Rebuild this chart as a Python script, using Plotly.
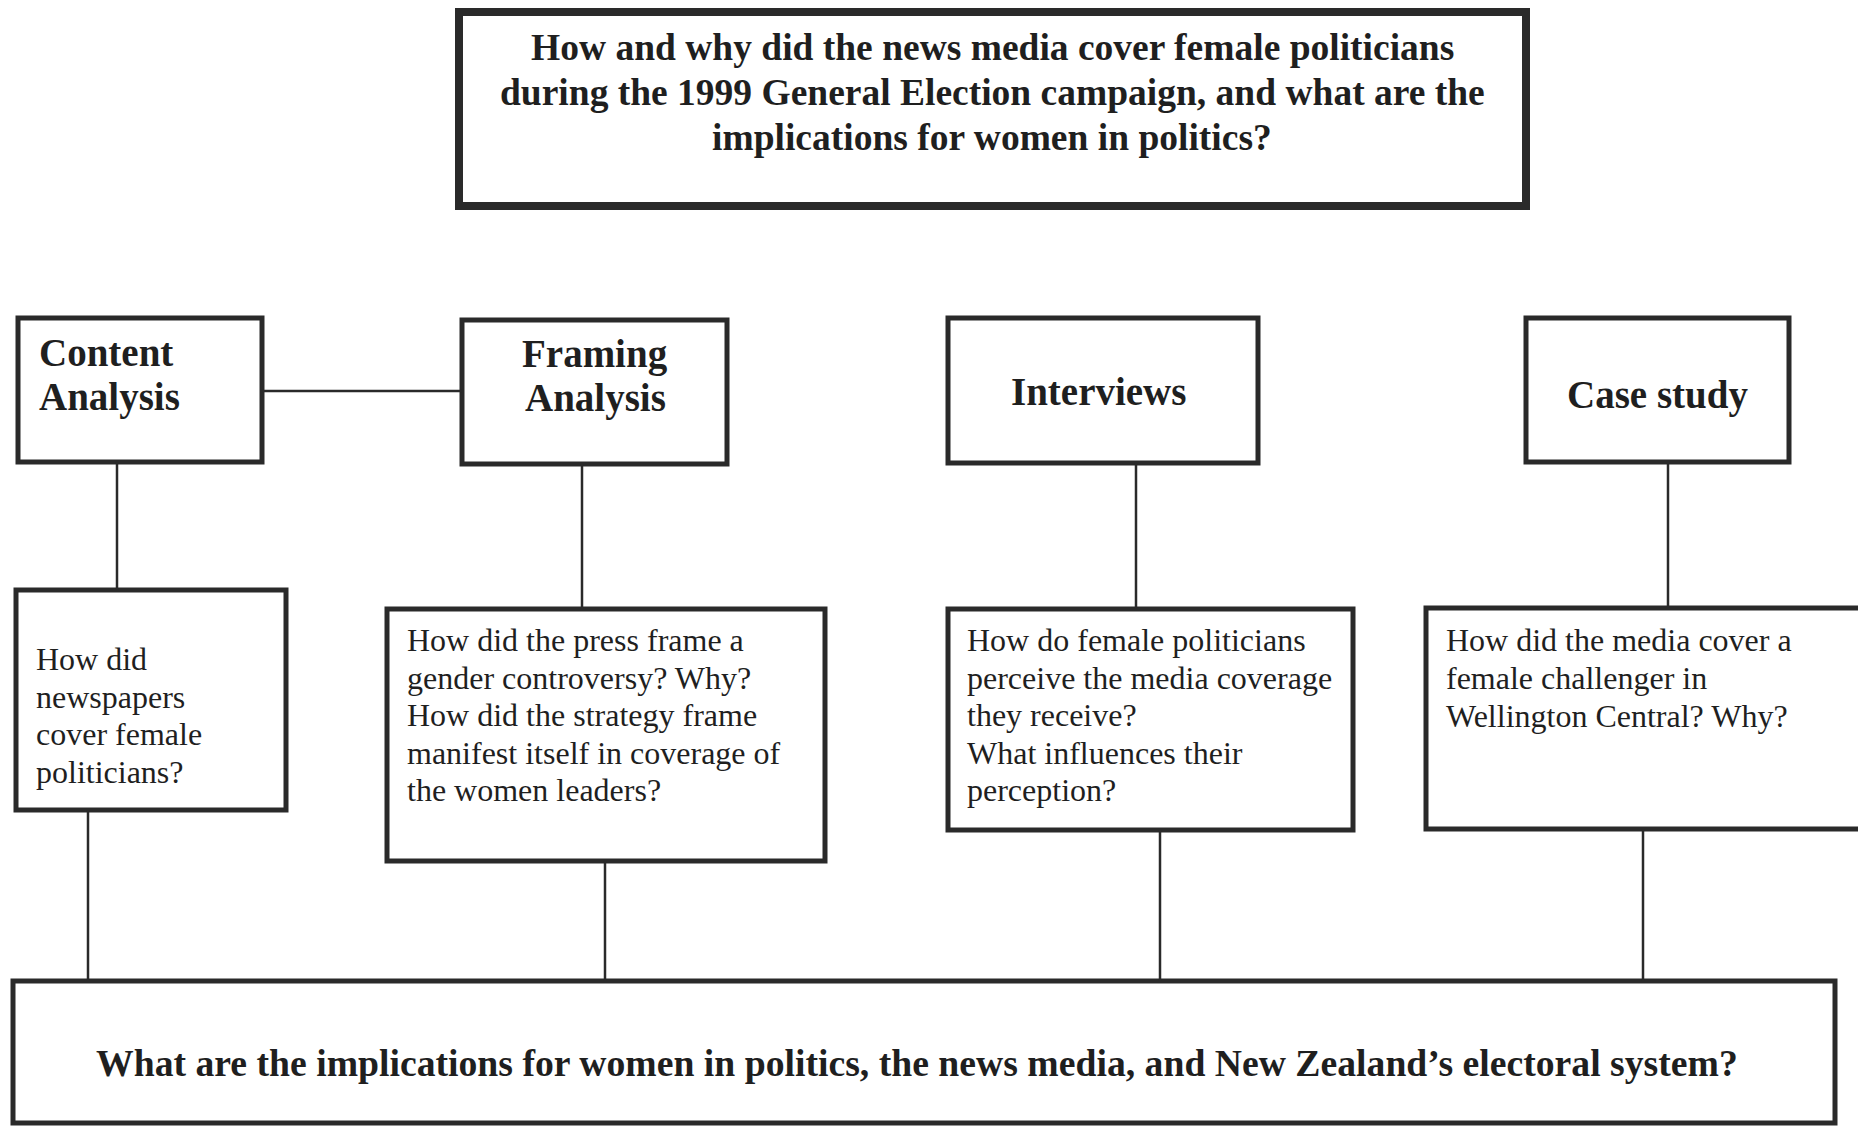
import plotly.graph_objects as go

# ---- text content ----
main_question = ["How and why did the news media cover female politicians",
                 "during the 1999 General Election campaign, and what are the",
                 "implications for women in politics?"]
methods = [["Content", "Analysis"], ["Framing", "Analysis"], ["Interviews"], ["Case study"]]
method_align = ["left", "center", "center", "center"]
sub_questions = [
    ["How did", "newspapers", "cover female", "politicians?"],
    ["How did the press frame a", "gender controversy? Why?", "How did the strategy frame",
     "manifest itself in coverage of", "the women leaders?"],
    ["How do female politicians", "perceive the media coverage", "they receive?",
     "What influences their", "perception?"],
    ["How did the media cover a", "female challenger in", "Wellington Central? Why?"],
]
conclusion = ("What are the implications for women in politics, the news media, "
              "and New Zealand\u2019s electoral system?")

# ---- layout geometry (pixels, y downward) ----
W, H = 1858, 1126
top_box = (459, 1526, 12, 206)
top_text = (992, 47, 45)                      # x centre, first line y, line step
method_boxes = [(18, 262, 318, 462), (462, 727, 320, 464), (948, 1258, 318, 463), (1526, 1789, 318, 462)]
method_text = [(38, 352, 45), (595, 354, 44), (1098, 391, 0), (1657, 395, 0)]
question_boxes = [(16, 286, 590, 810), (387, 825, 609, 861), (948, 1353, 609, 830), (1426, 1880, 608, 829)]
question_text = [(35, 659, 37.6), (406, 640, 37.6), (966, 640, 37.6), (1445, 640, 38)]
down_x = [117, 582, 1136, 1668]
bottom_x = [88, 605, 1160, 1643]
bottom_box = (13, 1835, 981, 1123)
bottom_text = (917, 1063)

LINE = "#2a2a2a"
TXT = "#1f1f1f"
FONT = "Liberation Serif"

fig = go.Figure()
shapes = []
ann = []


def rect(b, w):
    x0, x1, y0, y1 = b
    shapes.append(dict(type="rect", xref="x", yref="y", x0=x0, x1=x1, y0=y0, y1=y1,
                       line=dict(color=LINE, width=w), fillcolor="rgba(0,0,0,0)", layer="above"))


def line(x0, y0, x1, y1, w=2.5):
    shapes.append(dict(type="line", xref="x", yref="y", x0=x0, y0=y0, x1=x1, y1=y1,
                       line=dict(color=LINE, width=w), layer="above"))


def text_lines(lines, x, y0, step, anchor, size, bold):
    for i, t in enumerate(lines):
        f = dict(family=FONT, size=size, color=TXT)
        if bold:
            f["weight"] = "bold"
        ann.append(dict(x=x, y=y0 + i * step, text=t, showarrow=False, xanchor=anchor,
                        yanchor="middle", font=f, borderpad=0))


rect(top_box, 8)
for b in method_boxes:
    rect(b, 5)
for b in question_boxes:
    rect(b, 5)
rect(bottom_box, 5)

# connector between content and framing analysis
line(method_boxes[0][1], 391, method_boxes[1][0], 391)
for i, x in enumerate(down_x):
    line(x, method_boxes[i][3], x, question_boxes[i][2])
for i, x in enumerate(bottom_x):
    line(x, question_boxes[i][3], x, bottom_box[2])

text_lines(main_question, top_text[0], top_text[1], top_text[2], "center", 37.5, True)
for (x, y, s), t, a in zip(method_text, methods, method_align):
    text_lines(t, x, y, s, a, 39, True)
for (x, y, s), t in zip(question_text, sub_questions):
    text_lines(t, x, y, s, "left", 32, False)
text_lines([conclusion], bottom_text[0], bottom_text[1], 0, "center", 37.7, True)

fig.update_layout(
    width=W, height=H, margin=dict(l=0, r=0, t=0, b=0),
    paper_bgcolor="white", plot_bgcolor="white",
    xaxis=dict(range=[0, W], visible=False, fixedrange=True),
    yaxis=dict(range=[H, 0], visible=False, fixedrange=True),
    shapes=shapes, annotations=ann, showlegend=False,
)

fig.write_html("out.html", config={"displayModeBar": False},
               post_script="document.body.style.margin='0';document.body.style.overflow='hidden';")
